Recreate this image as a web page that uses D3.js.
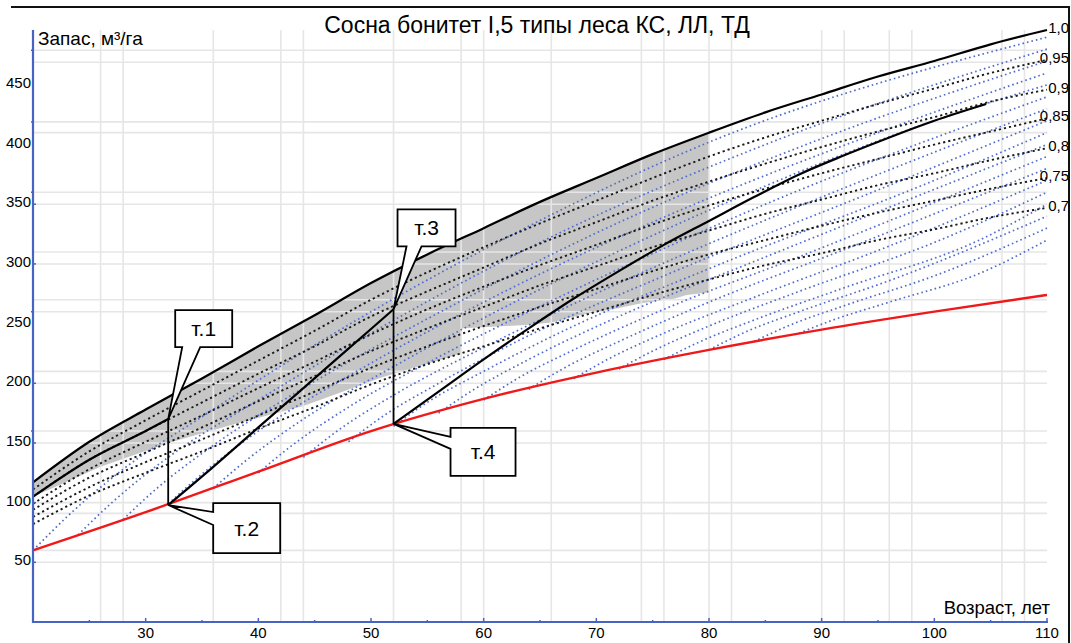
<!DOCTYPE html>
<html>
<head>
<meta charset="utf-8">
<script src="https://cdn.jsdelivr.net/npm/d3@7"></script>
<style>
  body { margin: 0; background: #fff; }
  svg { display: block; font-family: "Liberation Sans", Arial, sans-serif; }
</style>
</head>
<body>
<svg id="chart" width="1071" height="643"></svg>
<script>
// ---- data -------------------------------------------------------------
// Age grid for the relative-density (полнота) curves, years
const ages = [20,25,30,35,40,45,50,55,60,65,70,75,80,85,90,95,100,105,110];
// Stock, m3/ha, for each relative density
const stock100 = [117,151,178,204,231,257,284,308,330,352,372,392,410,427,442,457,470,484,496];
const stock095 = [111,143,169,194,219,244,270,293,314,334,353,372,390,406,420,434,447,460,471];
const stock090 = [105,136,160,184,208,231,256,277,297,317,335,353,369,384,398,411,423,436,446];
const stock085 = [99,128,151,173,196,218,241,262,281,299,316,333,349,363,376,388,400,411,422];
const stock080 = [94,121,142,163,185,206,227,246,264,282,298,314,328,342,354,366,376,387,397];
const stock075 = [88,113,134,153,173,193,213,231,248,264,279,294,308,320,332,343,353,363,372];
const stock070 = [82,106,125,143,162,180,199,216,231,246,260,274,287,299,309,320,329,339,347];
const densityLabels = ["1,0","0,95","0,9","0,85","0,8","0,75","0,7"];

// Minimum permissible stock (red line)
const redAges  = [20,30,40,50,60,70,80,90,100,110];
const redStock = [60,92,126,160,187,209,228,245,260,274];

// Recommended zone (grey band): lower boundary, upper boundary is density 1.0 up to age 80
const bandLower = [[20,105],[26,130],[32,150],[38,166],[44,181],[51,205],[58,225],[58,246],
                   [64,249],[66,251],[69,258],[72,263],[74,267],[77,271],[78,274],[80,276]];
const bandEndAge = 80;

// Growth trajectories after thinning (blue dotted)
const growthCurves = [
  [[20,60],[23,88],[28,128],[35,172],[45,232],[60,312],[80,402],[110,490]],
  [[24,73],[27,100],[32,138],[40,186],[50,242],[65,318],[85,400],[110,480]],
  [[28,86],[31,112],[36,148],[44,196],[55,254],[70,326],[90,405],[110,470]],
  [[32,99],[35,124],[40,160],[48,206],[60,268],[75,335],[95,410],[110,460]],
  [[36,112],[39,136],[44,170],[52,214],[64,274],[80,345],[100,420],[110,450]],
  [[40,125],[43,148],[48,180],[56,222],[68,278],[85,350],[110,440]],
  [[44,138],[47,160],[52,190],[60,230],[72,284],[90,356],[110,430]],
  [[48,151],[51,172],[56,200],[64,240],[76,290],[95,362],[110,420]],
  [[52,164],[55,184],[60,210],[68,248],[80,296],[100,370],[110,410]],
  [[56,175],[59,194],[64,220],[72,256],[84,302],[110,400]],
  [[60,186],[63,204],[68,228],[76,262],[88,306],[110,390]],
  [[64,195],[67,212],[72,235],[80,268],[92,312],[110,380]],
  [[68,204],[71,220],[76,242],[84,272],[96,315],[110,370]],
  [[72,212],[75,227],[80,248],[88,277],[100,318],[110,360]],
  [[76,220],[79,234],[84,253],[92,280],[104,320],[110,350]],
  [[80,228],[83,242],[88,260],[96,286],[110,340]],
  [[84,235],[87,248],[92,265],[100,290],[110,330]],
  [[88,242],[91,253],[96,268],[104,292],[110,320]]
];

// Thinning scheme: growth before first thinning, thinnings, growth after
const growthBefore = [[20,105],[25,136],[30,160],[32,170]];
const growthMiddle = [[32,98],[36,130],[40,163],[44,196],[48,229],[52,262]];
const growthAfter  = [[52,166],[56,193],[60,220],[64,246],[68,271],[72,294],[76,316],[80,336],
                      [84,356],[88,375],[92,391],[96,406],[100,420],[104.6,434]];
const pointNames  = ["т.1","т.2","т.3","т.4"];
const pointAges   = [32,32,52,52];
const pointStocks = [170,98,262,166];

// Axis ticks and grid
const xTickValues  = [30,40,50,60,70,80,90,100,110];
const xMinorTicks  = [25,35,45,55,65,75,85,95,105];
const yTickValues  = [50,100,150,200,250,300,350,400,450];
const yTickMarks   = [50,100,150,200,300,350];
const yMinorMarks  = [160,260,360,419,479];
const gridAges     = [26,28,36,42,44,52,58,60,66,74,76,80,82,90,92,96,98,106,108];
const gridStocks   = [50,60,91,100,150,160,200,210,260,270,300,310,350,360,410,419,469,479];

const titleText = "Сосна бонитет I,5 типы леса КС, ЛЛ, ТД";
const yTitle = "Запас, м³/га";
const xTitle = "Возраст, лет";

// ---- drawing ----------------------------------------------------------
const svg = d3.select("#chart");
const x = d3.scaleLinear().domain([20, 110]).range([33, 1047]);
const y = d3.scaleLinear().domain([0, 496]).range([622, 30]);

const axisBlue = "#4763c4";
const line = d3.line().x(d => x(d[0])).y(d => y(d[1])).curve(d3.curveMonotoneX);
const lineStraight = d3.line().x(d => x(d[0])).y(d => y(d[1]));

// grey band
const bandUpper = ages.map((a, i) => [a, stock100[i]]).filter(d => d[0] <= bandEndAge);
const bandPoly = bandUpper.concat(bandLower.slice().reverse());
svg.append("path")
  .attr("d", lineStraight(bandPoly) + "Z")
  .attr("fill", "#c6c6c6");

// grid
const grid = svg.append("g").attr("stroke", "#e6e6e6").attr("stroke-width", 1.6);
grid.selectAll("line.gx").data(gridAges).join("line")
  .attr("x1", d => x(d)).attr("x2", d => x(d))
  .attr("y1", y.range()[1]).attr("y2", y.range()[0]);
grid.selectAll("line.gy").data(gridStocks).join("line")
  .attr("x1", x.range()[0]).attr("x2", x.range()[1])
  .attr("y1", d => y(d)).attr("y2", d => y(d));

// blue growth curves
svg.append("g").selectAll("path").data(growthCurves).join("path")
  .attr("d", d => line(d))
  .attr("fill", "none")
  .attr("stroke", "#4f6ccb")
  .attr("stroke-width", 1.7)
  .attr("stroke-dasharray", "1.6,3");

// density curves
const densitySeries = [stock100, stock095, stock090, stock085, stock080, stock075, stock070];
densitySeries.forEach((s, i) => {
  const pts = ages.map((a, k) => [a, s[k]]);
  svg.append("path")
    .attr("d", line(pts))
    .attr("fill", "none")
    .attr("stroke", i === 0 ? "#000" : "#1a1a1a")
    .attr("stroke-width", i === 0 ? 2.2 : 1.9)
    .attr("stroke-dasharray", i === 0 ? null : "2.2,3");
  const last = pts[pts.length - 1];
  svg.append("text")
    .attr("x", 1069).attr("y", y(last[1]) + 3)
    .attr("text-anchor", "end")
    .attr("font-size", 15)
    .attr("fill", "#000")
    .text(densityLabels[i]);
});

// red minimum line
svg.append("path")
  .attr("d", line(redAges.map((a, i) => [a, redStock[i]])))
  .attr("fill", "none").attr("stroke", "#f01818").attr("stroke-width", 2.4);

// thinning scheme
[growthBefore, growthMiddle, growthAfter].forEach(seg => {
  svg.append("path").attr("d", line(seg))
    .attr("fill", "none").attr("stroke", "#000").attr("stroke-width", 2.2);
});
[[0, 1], [2, 3]].forEach(([a, b]) => {
  svg.append("line")
    .attr("x1", x(pointAges[a])).attr("y1", y(pointStocks[a]))
    .attr("x2", x(pointAges[b])).attr("y2", y(pointStocks[b]))
    .attr("stroke", "#000").attr("stroke-width", 1.8);
});

// callouts: box offset from the point, box size, side of the pointer and its base
const calloutLayout = [
  { dx: 7,  dy: -109, w: 57, h: 37, side: "bottom", a: 7,  b: 25 },
  { dx: 45, dy: -2,   w: 67, h: 50, side: "left",   a: 9,  b: 22 },
  { dx: 4,  dy: -100, w: 58, h: 37, side: "bottom", a: 9,  b: 24 },
  { dx: 57, dy: 4,    w: 65, h: 48, side: "left",   a: 9,  b: 21 }
];
pointNames.forEach((name, i) => {
  const L = calloutLayout[i];
  const tx = x(pointAges[i]), ty = y(pointStocks[i]);
  const bx = tx + L.dx, by = ty + L.dy;
  let d;
  if (L.side === "bottom") {
    d = `M${bx},${by}H${bx + L.w}V${by + L.h}H${bx + L.b}L${tx},${ty}L${bx + L.a},${by + L.h}H${bx}Z`;
  } else {
    d = `M${bx},${by}H${bx + L.w}V${by + L.h}H${bx}V${by + L.b}L${tx},${ty}L${bx},${by + L.a}Z`;
  }
  svg.append("path").attr("d", d)
    .attr("fill", "#fff").attr("stroke", "#000").attr("stroke-width", 1.8)
    .attr("stroke-linejoin", "miter");
  svg.append("text")
    .attr("x", bx + L.w / 2).attr("y", by + L.h / 2 + 7.5)
    .attr("text-anchor", "middle").attr("font-size", 21).attr("fill", "#000")
    .text(name);
});

// axes
const axisG = svg.append("g");
axisG.append("line")
  .attr("x1", x.range()[0]).attr("x2", x.range()[1] + 1)
  .attr("y1", y(0)).attr("y2", y(0))
  .attr("stroke", axisBlue).attr("stroke-width", 2);
axisG.append("line")
  .attr("x1", x(20)).attr("x2", x(20))
  .attr("y1", y(0) + 1).attr("y2", y.range()[1])
  .attr("stroke", axisBlue).attr("stroke-width", 2.2);

axisG.selectAll("line.xt").data(xTickValues).join("line")
  .attr("x1", d => x(d)).attr("x2", d => x(d))
  .attr("y1", y(0)).attr("y2", y(0) - 4)
  .attr("stroke", axisBlue).attr("stroke-width", 1.5);
axisG.selectAll("line.xm").data(xMinorTicks).join("line")
  .attr("x1", d => x(d)).attr("x2", d => x(d))
  .attr("y1", y(0)).attr("y2", y(0) - 2)
  .attr("stroke", axisBlue).attr("stroke-width", 1.5);
axisG.selectAll("line.yt").data(yTickMarks).join("line")
  .attr("x1", x(20)).attr("x2", x(20) + 3)
  .attr("y1", d => y(d)).attr("y2", d => y(d))
  .attr("stroke", axisBlue).attr("stroke-width", 1.5);
axisG.selectAll("line.ym").data(yMinorMarks).join("line")
  .attr("x1", x(20) - 2).attr("x2", x(20))
  .attr("y1", d => y(d)).attr("y2", d => y(d))
  .attr("stroke", axisBlue).attr("stroke-width", 1.5);

axisG.selectAll("text.xl").data(xTickValues).join("text")
  .attr("x", d => x(d)).attr("y", 638)
  .attr("text-anchor", "middle").attr("font-size", 15).attr("fill", "#000")
  .text(d => d);
axisG.selectAll("text.yl").data(yTickValues).join("text")
  .attr("x", 31).attr("y", d => y(d) + 3)
  .attr("text-anchor", "end").attr("font-size", 15).attr("fill", "#000")
  .text(d => d);

// titles
svg.append("text").attr("x", 537).attr("y", 33)
  .attr("text-anchor", "middle").attr("font-size", 23).attr("fill", "#000")
  .text(titleText);
svg.append("text").attr("x", 38).attr("y", 45)
  .attr("font-size", 19).attr("fill", "#000")
  .text(yTitle);
svg.append("text").attr("x", 1050).attr("y", 614)
  .attr("text-anchor", "end").attr("font-size", 18.5).attr("fill", "#000")
  .text(xTitle);

// frame (top and right edges)
svg.append("path").attr("d", "M11,7H1069V643")
  .attr("fill", "none").attr("stroke", "#111").attr("stroke-width", 2);
</script>
</body>
</html>
